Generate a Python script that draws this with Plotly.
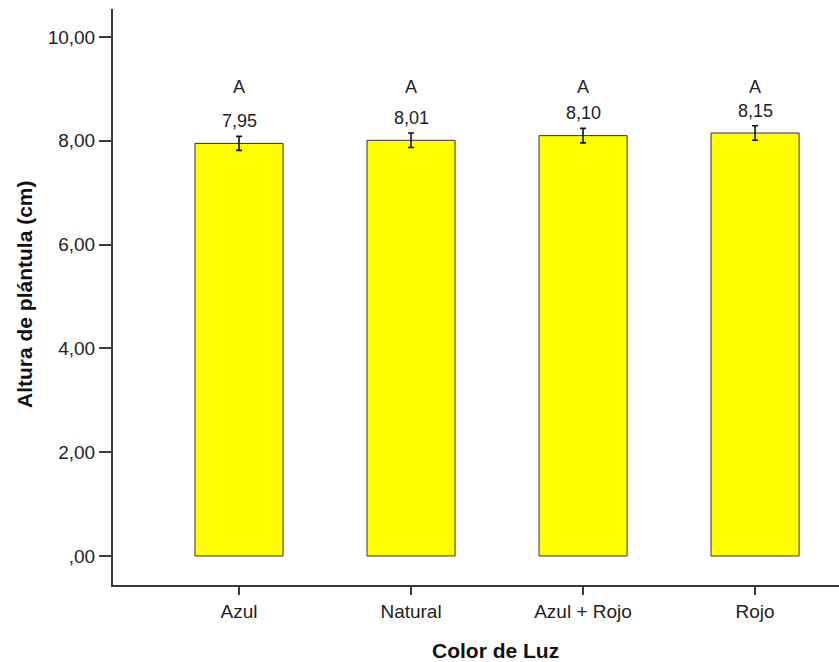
import plotly.graph_objects as go

categories = ["Azul", "Natural", "Azul + Rojo", "Rojo"]
means = [7.95, 8.01, 8.10, 8.15]
errors = [0.135, 0.14, 0.14, 0.14]
value_labels = ["7,95", "8,01", "8,10", "8,15"]
group_letters = ["A", "A", "A", "A"]
letter_level = 9.04
y_tick_vals = [0, 2, 4, 6, 8, 10]
y_tick_text = [",00", "2,00", "4,00", "6,00", "8,00", "10,00"]
x_title = "Color de Luz"
y_title = "Altura de plántula (cm)"

FONT = "Liberation Sans, Arial, sans-serif"
AXIS_COLOR = "#3a3a3a"
W, H = 839, 662
ML, MR, MT, MB = 113, 0, 9, 77

x_pos = list(range(len(categories)))

fig = go.Figure()
fig.add_trace(go.Bar(
    x=x_pos, y=means, width=0.512,
    marker=dict(color="#FFFF00", line=dict(color="#333333", width=1)),
    error_y=dict(type="data", array=errors, visible=True,
                 color="#111111", thickness=1.6, width=3),
    hoverinfo="skip", showlegend=False,
))

annotations = []
for xi, m, e, lab, let in zip(x_pos, means, errors, value_labels, group_letters):
    annotations.append(dict(x=xi, y=m + e, text=lab, showarrow=False,
                            xref="x", yref="y", yanchor="bottom", yshift=3,
                            font=dict(family=FONT, size=18, color="#222222")))
    annotations.append(dict(x=xi, y=letter_level, text=let, showarrow=False,
                            xref="x", yref="y", yanchor="middle",
                            font=dict(family=FONT, size=18, color="#222222")))

pw, ph = W - ML - MR, H - MT - MB
annotations.append(dict(text="<b>%s</b>" % x_title, showarrow=False,
                        xref="paper", yref="paper",
                        x=(495 - ML) / pw, y=(H - MB - 650) / ph,
                        xanchor="center", yanchor="middle",
                        font=dict(family=FONT, size=21, color="#111111")))
annotations.append(dict(text="<b>%s</b>" % y_title, showarrow=False, textangle=-90,
                        xref="paper", yref="paper",
                        x=(24 - ML) / pw, y=(H - MB - 294) / ph,
                        xanchor="center", yanchor="middle",
                        font=dict(family=FONT, size=21, color="#111111")))

fig.update_layout(
    width=W, height=H,
    margin=dict(l=ML, r=MR, t=MT, b=MB, autoexpand=False),
    paper_bgcolor="white", plot_bgcolor="white",
    font=dict(family=FONT, size=18, color="#222222"),
    annotations=annotations,
    xaxis=dict(
        range=[-0.7326, 3.488], tickvals=x_pos, ticktext=categories,
        showline=True, linecolor=AXIS_COLOR, linewidth=2,
        ticks="outside", ticklen=8, tickwidth=2, tickcolor=AXIS_COLOR,
        showgrid=False, zeroline=False, fixedrange=True, automargin=False,
        tickfont=dict(family=FONT, size=19, color="#222222"),
    ),
    yaxis=dict(
        range=[-0.559, 10.54], tickvals=y_tick_vals, ticktext=y_tick_text,
        showline=True, linecolor=AXIS_COLOR, linewidth=2,
        ticks="outside", ticklen=12, tickwidth=2, tickcolor=AXIS_COLOR,
        showgrid=False, zeroline=False, fixedrange=True, automargin=False,
        tickfont=dict(family=FONT, size=19, color="#222222"),
    ),
)

fig.write_html("out.html", config={"displayModeBar": False},
               post_script="document.body.style.margin='0';document.body.style.overflow='hidden';")
